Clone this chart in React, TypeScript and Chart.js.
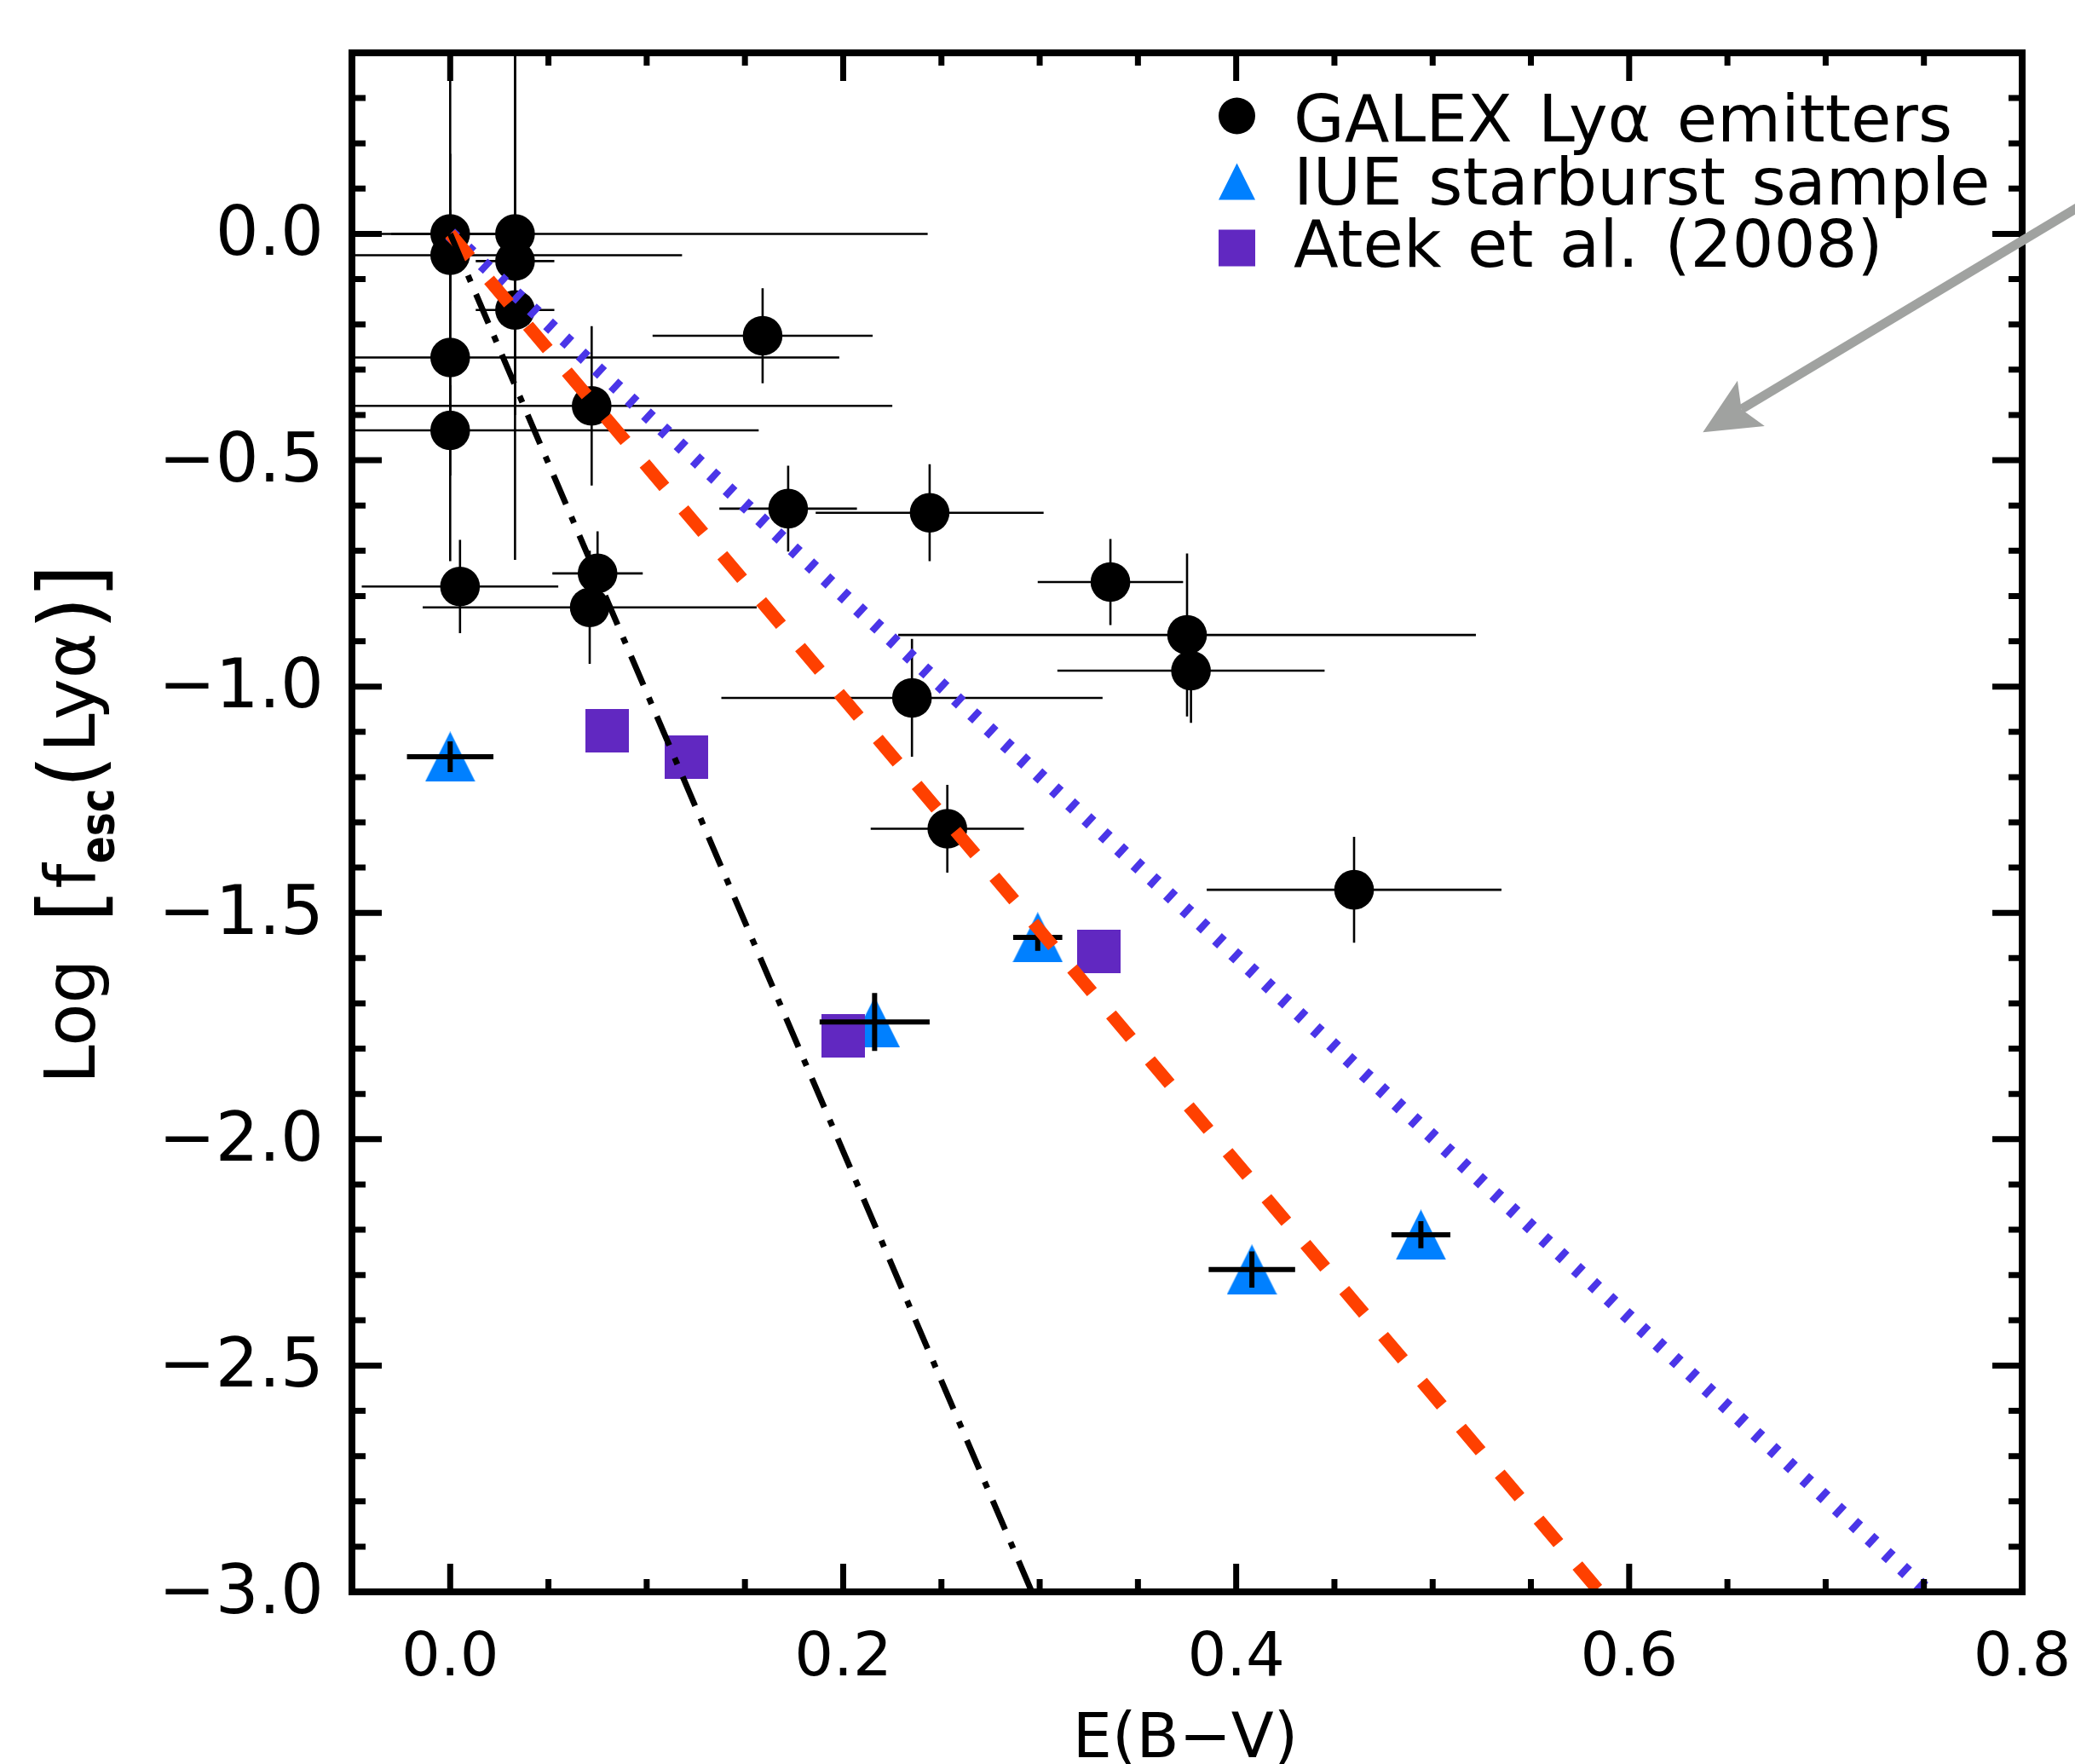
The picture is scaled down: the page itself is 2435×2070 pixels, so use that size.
import React, { useEffect, useRef } from "react";
import { Chart, registerables } from "chart.js";

Chart.register(...registerables);

// ---------------- data ----------------
// GALEX Lyα emitters
const galexX = [0.000, 0.000, 0.033, 0.033, 0.033, 0.159, 0.000, 0.072, 0.000, 0.172, 0.244, 0.005, 0.075, 0.071, 0.235, 0.253, 0.336, 0.375, 0.377, 0.460];
const galexY = [0.000, -0.047, 0.000, -0.060, -0.168, -0.225, -0.273, -0.380, -0.434, -0.607, -0.616, -0.779, -0.750, -0.825, -1.025, -1.314, -0.769, -0.886, -0.965, -1.449];
const galexXErr = [0.030, 0.118, 0.210, 0.020, 0.020, 0.056, 0.198, 0.153, 0.157, 0.035, 0.058, 0.050, 0.023, 0.085, 0.097, 0.039, 0.037, 0.147, 0.068, 0.075];
const galexYErr = [0.400, 0.100, 0.400, 0.660, 0.050, 0.105, 0.450, 0.176, 0.100, 0.095, 0.107, 0.103, 0.093, 0.125, 0.130, 0.097, 0.095, 0.180, 0.115, 0.117];

// IUE starburst sample
const iueX = [0.000, 0.216, 0.299, 0.408, 0.494];
const iueY = [-1.155, -1.741, -1.554, -2.288, -2.211];
const iueXErr = [0.022, 0.028, 0.0125, 0.022, 0.015];
const iueYErr = [0.034, 0.064, 0.030, 0.040, 0.030];

// Atek et al. (2008)
const atekX = [0.080, 0.120, 0.200, 0.330];
const atekY = [-1.097, -1.156, -1.771, -1.586];

// model lines (start, end)
const lineBlueX = [0.0, 0.752];
const lineBlueY = [0.0, -3.0];
const lineRedX = [0.0, 0.585];
const lineRedY = [0.0, -3.0];
const lineBlackX = [0.0, 0.296];
const lineBlackY = [0.0, -3.0];

// axes
const xMin = -0.05;
const xMax = 0.8;
const yMin = -3.0;
const yMax = 0.4;
const xTicks = [0.0, 0.2, 0.4, 0.6, 0.8];
const yTicks = [-3.0, -2.5, -2.0, -1.5, -1.0, -0.5, 0.0];
const xMinorStep = 0.05;
const yMinorStep = 0.1;

const legendLabels = ["GALEX Lyα emitters", "IUE starburst sample", "Atek et al. (2008)"];
const xTitle = "E(B\u2212V)";

// annotation arrow (data coordinates)
const arrowFrom = { x: 0.845, y: 0.102 };
const arrowTo = { x: 0.6375, y: -0.4383 };

// ---------------- styles ----------------
const FONT = '"DejaVu Sans", sans-serif';
const C_TRI = "#0080ff";
const C_SQ = "#6128c1";
const C_RED = "#ff4000";
const C_BLUE = "#4a35e8";
const C_ARROW = "#a0a2a0";

function makeTriangle(w: number, h: number, color: string) {
  const c = document.createElement("canvas");
  c.width = w;
  c.height = h;
  const g = c.getContext("2d")!;
  g.fillStyle = color;
  g.beginPath();
  g.moveTo(w / 2, 0);
  g.lineTo(w, h);
  g.lineTo(0, h);
  g.closePath();
  g.fill();
  return c;
}
function makeSquare(s: number, color: string) {
  const c = document.createElement("canvas");
  c.width = s;
  c.height = s;
  const g = c.getContext("2d")!;
  g.fillStyle = color;
  g.fillRect(0, 0, s, s);
  return c;
}

function drawErrors(chart: any, xs: number[], ys: number[], xe: number[], ye: number[], lw: number) {
  const { ctx, chartArea, scales } = chart;
  const sx = scales.x;
  const sy = scales.y;
  ctx.save();
  ctx.beginPath();
  ctx.rect(chartArea.left, chartArea.top, chartArea.right - chartArea.left, chartArea.bottom - chartArea.top);
  ctx.clip();
  ctx.strokeStyle = "#000";
  ctx.lineWidth = lw;
  ctx.lineCap = "butt";
  for (let i = 0; i < xs.length; i++) {
    const px = sx.getPixelForValue(xs[i]);
    const py = sy.getPixelForValue(ys[i]);
    ctx.beginPath();
    ctx.moveTo(sx.getPixelForValue(xs[i] - xe[i]), py);
    ctx.lineTo(sx.getPixelForValue(xs[i] + xe[i]), py);
    ctx.moveTo(px, sy.getPixelForValue(ys[i] + ye[i]));
    ctx.lineTo(px, sy.getPixelForValue(ys[i] - ye[i]));
    ctx.stroke();
  }
  ctx.restore();
}

const decorPlugin = {
  id: "decor",
  beforeDraw(chart: any) {
    const { ctx, width, height } = chart;
    ctx.save();
    ctx.fillStyle = "#fff";
    ctx.fillRect(0, 0, width, height);
    ctx.restore();
  },
  afterDatasetDraw(chart: any, args: any) {
    const label = chart.data.datasets[args.index].label;
    if (label === legendLabels[0]) drawErrors(chart, galexX, galexY, galexXErr, galexYErr, 2.6);
    if (label === legendLabels[2]) drawErrors(chart, iueX, iueY, iueXErr, iueYErr, 6);
  },
  afterDraw(chart: any) {
    const { ctx, chartArea, scales } = chart;
    const sx = scales.x;
    const sy = scales.y;
    const { left, right, top, bottom } = chartArea;
    ctx.save();

    // ticks (inward, all four sides)
    ctx.strokeStyle = "#000";
    ctx.lineWidth = 7;
    ctx.lineCap = "butt";
    const isMajor = (v: number, arr: number[]) => arr.some((t) => Math.abs(t - v) < 1e-6);
    for (let k = Math.ceil(xMin / xMinorStep - 1e-6); k * xMinorStep <= xMax + 1e-6; k++) {
      const v = k * xMinorStep;
      const p = sx.getPixelForValue(v);
      const len = isMajor(v, xTicks) ? 33 : 15;
      ctx.beginPath();
      ctx.moveTo(p, bottom);
      ctx.lineTo(p, bottom - len);
      ctx.moveTo(p, top);
      ctx.lineTo(p, top + len);
      ctx.stroke();
    }
    for (let k = Math.ceil(yMin / yMinorStep - 1e-6); k * yMinorStep <= yMax + 1e-6; k++) {
      const v = k * yMinorStep;
      const p = sy.getPixelForValue(v);
      const len = isMajor(v, yTicks) ? 35 : 16;
      ctx.beginPath();
      ctx.moveTo(left, p);
      ctx.lineTo(left + len, p);
      ctx.moveTo(right, p);
      ctx.lineTo(right - len, p);
      ctx.stroke();
    }

    // frame
    ctx.lineWidth = 8;
    ctx.strokeRect(left, top, right - left, bottom - top);

    // legend
    const lx = 1451.5;
    const rows = [136, 213, 291];
    const base = [165.6, 239.5, 312.8];
    ctx.fillStyle = "#000";
    ctx.beginPath();
    ctx.arc(lx, rows[0], 21.5, 0, Math.PI * 2);
    ctx.fill();
    ctx.fillStyle = C_TRI;
    ctx.beginPath();
    ctx.moveTo(lx, rows[1] - 21.5);
    ctx.lineTo(lx + 21.5, rows[1] + 21.5);
    ctx.lineTo(lx - 21.5, rows[1] + 21.5);
    ctx.closePath();
    ctx.fill();
    ctx.fillStyle = C_SQ;
    ctx.fillRect(lx - 21.5, rows[2] - 21.5, 43, 43);
    ctx.fillStyle = "#000";
    ctx.font = `77px ${FONT}`;
    ctx.textAlign = "left";
    ctx.textBaseline = "alphabetic";
    (ctx as any).wordSpacing = "6px";
    for (let i = 0; i < 3; i++) ctx.fillText(legendLabels[i], 1518, base[i]);
    (ctx as any).wordSpacing = "0px";

    // x title
    ctx.font = `73px ${FONT}`;
    ctx.textAlign = "center";
    ctx.fillText(xTitle, (left + right) / 2 - 2, 2062);

    // y title (rotated, with subscript)
    ctx.save();
    ctx.translate(111, 1266.6);
    ctx.rotate(-Math.PI / 2);
    const segs = [
      { t: "Log", c: 67.8, size: 82, dy: 0, bold: false, sx: 1 },
      { t: "[", c: 204, size: 104, dy: 8, bold: false, sx: 1 },
      { t: "f", c: 238.6, size: 82, dy: 0, bold: false, sx: 1 },
      { t: "esc", c: 297.3, size: 56, dy: 22, bold: true, sx: 0.84 },
      { t: "(", c: 361, size: 100, dy: 6, bold: false, sx: 1 },
      { t: "Lyα", c: 454, size: 82, dy: 0, bold: false, sx: 1 },
      { t: ")", c: 547, size: 100, dy: 6, bold: false, sx: 1 },
      { t: "]", c: 584.3, size: 104, dy: 8, bold: false, sx: 1 },
    ];
    ctx.textAlign = "center";
    for (const s of segs) {
      ctx.save();
      ctx.translate(s.c, s.dy);
      ctx.scale(s.sx, 1);
      ctx.font = `${s.bold ? "bold " : ""}${s.size}px ${FONT}`;
      ctx.fillText(s.t, 0, 0);
      ctx.restore();
    }
    ctx.restore();

    // arrow
    const ax0 = sx.getPixelForValue(arrowFrom.x);
    const ay0 = sy.getPixelForValue(arrowFrom.y);
    const ax1 = sx.getPixelForValue(arrowTo.x);
    const ay1 = sy.getPixelForValue(arrowTo.y);
    const dx = ax1 - ax0;
    const dy = ay1 - ay0;
    const L = Math.hypot(dx, dy);
    const ux = dx / L;
    const uy = dy / L;
    const px = -uy;
    const py = ux;
    const hl = 66;
    const hw = 31;
    ctx.strokeStyle = C_ARROW;
    ctx.fillStyle = C_ARROW;
    ctx.lineWidth = 11;
    ctx.beginPath();
    ctx.moveTo(ax0, ay0);
    ctx.lineTo(ax1 - ux * hl * 0.8, ay1 - uy * hl * 0.8);
    ctx.stroke();
    ctx.beginPath();
    ctx.moveTo(ax1, ay1);
    ctx.lineTo(ax1 - ux * hl + px * hw, ay1 - uy * hl + py * hw);
    ctx.lineTo(ax1 - ux * hl * 0.8, ay1 - uy * hl * 0.8);
    ctx.lineTo(ax1 - ux * hl - px * hw, ay1 - uy * hl - py * hw);
    ctx.closePath();
    ctx.fill();

    ctx.restore();
  },
};

const fmtY = (v: number) => (v < -1e-9 ? "\u2212" + Math.abs(v).toFixed(1) : Math.abs(v).toFixed(1));
const pts = (xs: number[], ys: number[]) => xs.map((x, i) => ({ x, y: ys[i] }));
const zeroPad = (s: any) => {
  s.paddingLeft = 0;
  s.paddingRight = 0;
  s.paddingTop = 0;
  s.paddingBottom = 0;
};

export default function App() {
  const ref = useRef<HTMLCanvasElement | null>(null);

  useEffect(() => {
    if (!ref.current) return;
    const tri = makeTriangle(59, 59, C_TRI);
    const sq = makeSquare(51, C_SQ);
    const chart = new Chart(ref.current, {
      type: "scatter",
      data: {
        datasets: [
          {
            label: legendLabels[0],
            data: pts(galexX, galexY),
            pointStyle: "circle",
            pointRadius: 23.3,
            backgroundColor: "#000",
            borderWidth: 0,
            order: 7,
          } as any,
          {
            label: legendLabels[1],
            data: pts(iueX, iueY),
            pointStyle: tri,
            pointRadius: 29,
            backgroundColor: C_TRI,
            borderWidth: 0,
            order: 6,
          } as any,
          {
            label: legendLabels[2],
            data: pts(atekX, atekY),
            pointStyle: sq,
            pointRadius: 25,
            backgroundColor: C_SQ,
            borderWidth: 0,
            order: 5,
          } as any,
          {
            type: "line",
            label: "tau model (blue)",
            data: pts(lineBlueX, lineBlueY),
            borderColor: C_BLUE,
            borderWidth: 17,
            borderDash: [8, 18],
            pointRadius: 0,
            fill: false,
            tension: 0,
            order: 4,
          } as any,
          {
            type: "line",
            label: "fit (red)",
            data: pts(lineRedX, lineRedY),
            borderColor: C_RED,
            borderWidth: 15,
            borderDash: [36, 34.6],
            pointRadius: 0,
            fill: false,
            tension: 0,
            order: 3,
          } as any,
          {
            type: "line",
            label: "screen (black)",
            data: pts(lineBlackX, lineBlackY),
            borderColor: "#000",
            borderWidth: 7,
            borderDash: [37, 16, 8, 16],
            pointRadius: 0,
            fill: false,
            tension: 0,
            order: 2,
          } as any,
        ],
      },
      options: {
        responsive: false,
        maintainAspectRatio: false,
        devicePixelRatio: 1,
        animation: false,
        events: [],
        layout: { padding: { top: 62, right: 62, left: 0, bottom: 0 }, autoPadding: false } as any,
        plugins: { legend: { display: false }, tooltip: { enabled: false }, title: { display: false } },
        scales: {
          x: {
            type: "linear",
            min: xMin,
            max: xMax,
            afterBuildTicks: (s: any) => {
              s.ticks = xTicks.map((v) => ({ value: v }));
            },
            afterFit: (s: any) => {
              s.height = 202;
              zeroPad(s);
            },
            ticks: {
              font: { family: FONT, size: 72 },
              color: "#000",
              padding: 36,
              autoSkip: false,
              maxRotation: 0,
              minRotation: 0,
              callback: (v: any) => Number(v).toFixed(1),
            },
            grid: { display: false, drawTicks: false },
            border: { display: false },
          },
          y: {
            type: "linear",
            min: yMin,
            max: yMax,
            afterBuildTicks: (s: any) => {
              s.ticks = yTicks.map((v) => ({ value: v }));
            },
            afterFit: (s: any) => {
              s.width = 413;
              zeroPad(s);
            },
            ticks: {
              font: { family: FONT, size: 80 },
              color: "#000",
              padding: 33,
              labelOffset: 4,
              autoSkip: false,
              callback: (v: any) => fmtY(Number(v)),
            },
            grid: { display: false, drawTicks: false },
            border: { display: false },
          },
        },
      } as any,
      plugins: [decorPlugin as any],
    });
    return () => chart.destroy();
  }, []);

  return (
    <div style={{ position: "absolute", left: 0, top: 0, width: 2435, height: 2070, background: "#fff" }}>
      <canvas ref={ref} width={2435} height={2070} style={{ width: 2435, height: 2070, display: "block" }} />
    </div>
  );
}
